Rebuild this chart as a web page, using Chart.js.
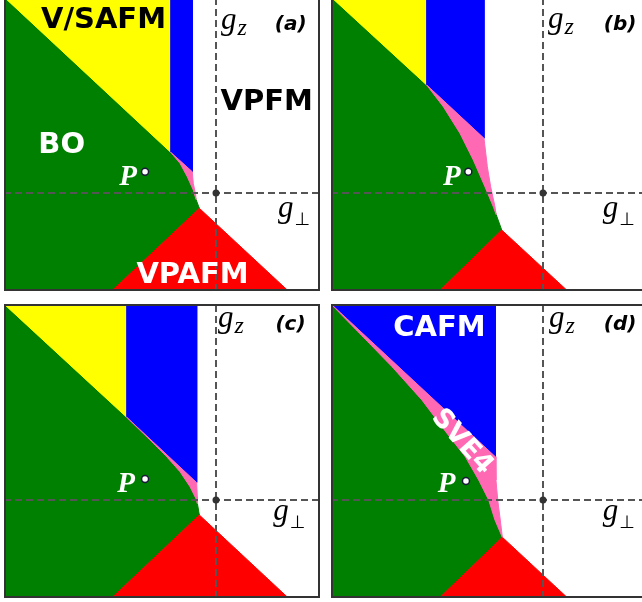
<!DOCTYPE html>
<html>
<head>
<title>Phase diagrams</title>
<script src="https://cdn.jsdelivr.net/npm/chart.js"></script>
<style>
  body { margin: 0; background: #fff; }
  #wrap { position: relative; width: 642px; height: 602px; overflow: hidden; }
  .panel { position: absolute; width: 316px; height: 294px; }
  .panel canvas { position: absolute; left: 0; top: 0; }
  .frame { position: absolute; left: 0; top: 0; width: 316px; height: 294px; box-sizing: border-box;
           border: 2px solid #333; pointer-events: none; }
</style>
</head>
<body>
<div id="wrap"></div>
<script>
// axis window shared by all four panels (g_perp horizontal, g_z vertical, origin at dashed crossing)
var X_MIN = -2.163, X_MAX = 1.061, Y_MIN = -1, Y_MAX = 2;

var panelNames = ['(a)', '(b)', '(c)', '(d)'];
var phaseNames = ['BO', 'V/SAFM', 'CAFM', 'SVE4', 'VPAFM', 'VPFM'];

// region boundaries [g_perp, g_z]
// panel (a)
var boA = [[-2.163,2],[-0.462,0.415],[-0.367,0.303],[-0.293,0.166],[-0.232,0.031],[-0.204,-0.065],[-0.170,-0.156],[-1.064,-1],[-2.163,-1]];
var vsafmA = [[-2.163,2],[-0.462,2],[-0.462,0.415]];
var cafmA = [[-0.462,2],[-0.242,2],[-0.242,0.217],[-0.462,0.415]];
var sve4A = [[-0.462,0.415],[-0.242,0.217],[-0.232,0.099],[-0.207,-0.020],[-0.204,-0.065],[-0.232,0.031],[-0.293,0.166],[-0.367,0.303]];
var vpafmA = [[-0.170,-0.156],[0.738,-1],[-1.064,-1]];
// panel (b)
var boB = [[-2.163,2],[-1.187,1.102],[-1.017,0.881],[-0.847,0.609],[-0.711,0.337],[-0.592,0.064],[-0.507,-0.140],[-0.478,-0.220],[-0.421,-0.378],[-1.058,-1],[-2.163,-1]];
var vsafmB = [[-2.163,2],[-1.187,2],[-1.187,1.102]];
var cafmB = [[-1.187,2],[-0.602,2],[-0.602,0.558],[-1.187,1.102]];
var sve4B = [[-1.187,1.102],[-0.602,0.558],[-0.568,0.268],[-0.534,0.064],[-0.490,-0.140],[-0.478,-0.220],[-0.507,-0.140],[-0.592,0.064],[-0.711,0.337],[-0.847,0.609],[-1.017,0.881]];
var vpafmB = [[-0.421,-0.378],[0.252,-1],[-1.058,-1]];
// panel (c)
var boC = [[-2.163,2],[-0.911,0.844],[-0.673,0.612],[-0.503,0.442],[-0.367,0.289],[-0.265,0.136],[-0.197,0],[-0.190,-0.035],[-0.170,-0.153],[-1.064,-1],[-2.163,-1]];
var vsafmC = [[-2.163,2],[-0.911,2],[-0.911,0.844]];
var cafmC = [[-0.911,2],[-0.197,2],[-0.197,0.177],[-0.911,0.844]];
var sve4C = [[-0.911,0.844],[-0.197,0.177],[-0.191,0.034],[-0.190,-0.035],[-0.197,0],[-0.265,0.136],[-0.367,0.289],[-0.503,0.442],[-0.673,0.612]];
var vpafmC = [[-0.170,-0.153],[0.738,-1],[-1.064,-1]];
// panel (d)
var boD = [[-2.163,2],[-1.541,1.361],[-1.235,1.020],[-0.980,0.681],[-0.793,0.442],[-0.656,0.204],[-0.554,0],[-0.490,-0.204],[-0.415,-0.380],[-1.058,-1],[-2.163,-1]];
var vsafmD = [];
var cafmD = [[-2.163,2],[-0.487,2],[-0.487,0.442]];
var sve4D = [[-2.163,2],[-0.487,0.442],[-0.480,0.204],[-0.462,0],[-0.436,-0.204],[-0.415,-0.380],[-0.490,-0.204],[-0.554,0],[-0.656,0.204],[-0.793,0.442],[-0.980,0.681],[-1.235,1.020],[-1.541,1.361]];
var vpafmD = [[-0.415,-0.380],[0.252,-1],[-1.058,-1]];

// point P in each panel
var pointP = [[-0.724,0.217],[-0.762,0.217],[-0.724,0.214],[-0.786,0.194]];
var originPt = [0, 0];

var phaseColors = { 'BO': '#008000', 'V/SAFM': '#ffff00', 'CAFM': '#0000ff', 'SVE4': '#ff69b4', 'VPAFM': '#ff0000' };

var regions = [
  { 'BO': boA, 'V/SAFM': vsafmA, 'CAFM': cafmA, 'SVE4': sve4A, 'VPAFM': vpafmA },
  { 'BO': boB, 'V/SAFM': vsafmB, 'CAFM': cafmB, 'SVE4': sve4B, 'VPAFM': vpafmB },
  { 'BO': boC, 'V/SAFM': vsafmC, 'CAFM': cafmC, 'SVE4': sve4C, 'VPAFM': vpafmC },
  { 'BO': boD, 'V/SAFM': vsafmD, 'CAFM': cafmD, 'SVE4': sve4D, 'VPAFM': vpafmD }
];

// where each panel sits on the page
var panelPos = [[4, -3], [331, -3], [4, 304], [331, 304]];

var BIG = 'bold 29px "DejaVu Sans"';
var GFONT = 'italic 31px "Liberation Serif"';
var TAGFONT = 'italic bold 20px "DejaVu Sans"';
var PFONT = 'italic bold 29px "Liberation Serif"';
// subscript style: font, x gap, baseline drop
var SUBS = {
  'z': ['italic 24px "Liberation Serif"', 1, 6],
  '\u22A5': ['18px "DejaVu Sans"', 1, 8]
};

// text for each panel (positions in data units)
var panelText = [
  [
    { text: 'V/SAFM', at: [-1.148, 1.765], color: '#000', font: BIG },
    { text: 'VPFM', at: [0.517, 0.923], color: '#000', font: BIG },
    { text: 'BO', at: [-1.574, 0.480], color: '#fff', font: BIG },
    { text: 'VPAFM', at: [-0.240, -0.837], color: '#fff', font: BIG },
    { text: 'g', sub: 'z', at: [0.05, 1.67] },
    { text: '(a)', at: [0.762, 1.714], color: '#000', font: TAGFONT },
    { text: 'g', sub: '\u22A5', at: [0.633, -0.245] },
    { text: 'P', at: [-0.898, 0.153], color: '#fff', font: PFONT }
  ],
  [
    { text: 'g', sub: 'z', at: [0.051, 1.684] },
    { text: '(b)', at: [0.786, 1.714], color: '#000', font: TAGFONT },
    { text: 'g', sub: '\u22A5', at: [0.609, -0.242] },
    { text: 'P', at: [-0.93, 0.158], color: '#fff', font: PFONT }
  ],
  [
    { text: 'g', sub: 'z', at: [0.02, 1.765] },
    { text: '(c)', at: [0.760, 1.786], color: '#000', font: TAGFONT },
    { text: 'g', sub: '\u22A5', at: [0.585, -0.204] },
    { text: 'P', at: [-0.918, 0.153], color: '#fff', font: PFONT }
  ],
  [
    { text: 'CAFM', at: [-1.056, 1.75], color: '#fff', font: BIG },
    { text: 'SVE4', at: [-0.827, 0.592], color: '#fff', font: 'bold 27px "DejaVu Sans"', rot: 48 },
    { text: 'g', sub: 'z', at: [0.061, 1.765] },
    { text: '(d)', at: [0.786, 1.786], color: '#000', font: TAGFONT },
    { text: 'g', sub: '\u22A5', at: [0.609, -0.204] },
    { text: 'P', at: [-0.984, 0.153], color: '#fff', font: PFONT }
  ]
];

function toXY(arr) {
  return arr.map(function(p) { return { x: p[0], y: p[1] }; });
}

function textPlugin(items) {
  return {
    id: 'panelText',
    afterDatasetsDraw: function(chart) {
      var ctx = chart.ctx, sx = chart.scales.x, sy = chart.scales.y;
      ctx.save();
      items.forEach(function(t) {
        var px = sx.getPixelForValue(t.at[0]), py = sy.getPixelForValue(t.at[1]);
        if (t.sub) {
          var s = SUBS[t.sub];
          ctx.fillStyle = '#000';
          ctx.textAlign = 'left';
          ctx.textBaseline = 'alphabetic';
          ctx.font = GFONT;
          ctx.fillText(t.text, px, py);
          var w = ctx.measureText(t.text).width;
          ctx.font = s[0];
          ctx.fillText(t.sub, px + w + s[1], py + s[2]);
        } else {
          ctx.save();
          ctx.translate(px, py);
          ctx.rotate((t.rot || 0) * Math.PI / 180);
          ctx.fillStyle = t.color;
          ctx.font = t.font;
          ctx.textAlign = 'center';
          ctx.textBaseline = 'middle';
          ctx.fillText(t.text, 0, 0);
          ctx.restore();
        }
      });
      ctx.restore();
    }
  };
}

var wrap = document.getElementById('wrap');

for (var i = 0; i < 4; i++) {
  var div = document.createElement('div');
  div.className = 'panel';
  div.style.left = panelPos[i][0] + 'px';
  div.style.top = panelPos[i][1] + 'px';
  var canvas = document.createElement('canvas');
  canvas.width = 316;
  canvas.height = 294;
  div.appendChild(canvas);
  var frame = document.createElement('div');
  frame.className = 'frame';
  div.appendChild(frame);
  wrap.appendChild(div);

  // first dataset ends up on top
  var datasets = [
    { label: 'origin', data: toXY([originPt]), showLine: false, pointRadius: 3.5,
      pointBackgroundColor: '#333', pointBorderColor: '#333', pointBorderWidth: 0 },
    { label: 'P', data: toXY([pointP[i]]), showLine: false, pointRadius: 3.5,
      pointBackgroundColor: '#fff', pointBorderColor: '#1a1a3a', pointBorderWidth: 1.5 },
    { label: 'gperp axis', data: toXY([[X_MIN, 0], [X_MAX, 0]]), borderColor: '#555',
      borderWidth: 2, borderDash: [7, 4], pointRadius: 0, fill: false },
    { label: 'gz axis', data: toXY([[0, Y_MIN], [0, Y_MAX]]), borderColor: '#555',
      borderWidth: 2, borderDash: [7, 4], pointRadius: 0, fill: false }
  ];
  ['SVE4', 'CAFM', 'V/SAFM', 'VPAFM', 'BO'].forEach(function(name) {
    var pts = regions[i][name];
    if (!pts.length) return;
    var closed = pts.concat([pts[0]]);
    datasets.push({
      label: name,
      data: toXY(closed),
      backgroundColor: phaseColors[name],
      borderColor: phaseColors[name],
      borderWidth: 1,
      pointRadius: 0,
      tension: 0,
      fill: 'shape'
    });
  });

  new Chart(canvas.getContext('2d'), {
    type: 'line',
    data: { datasets: datasets },
    options: {
      responsive: false,
      animation: false,
      devicePixelRatio: 1,
      layout: { padding: 0, autoPadding: false },
      plugins: { legend: { display: false }, tooltip: { enabled: false }, title: { display: false } },
      scales: {
        x: { type: 'linear', min: X_MIN, max: X_MAX, display: false },
        y: { type: 'linear', min: Y_MIN, max: Y_MAX, display: false }
      }
    },
    plugins: [textPlugin(panelText[i])]
  });
}
</script>
</body>
</html>
